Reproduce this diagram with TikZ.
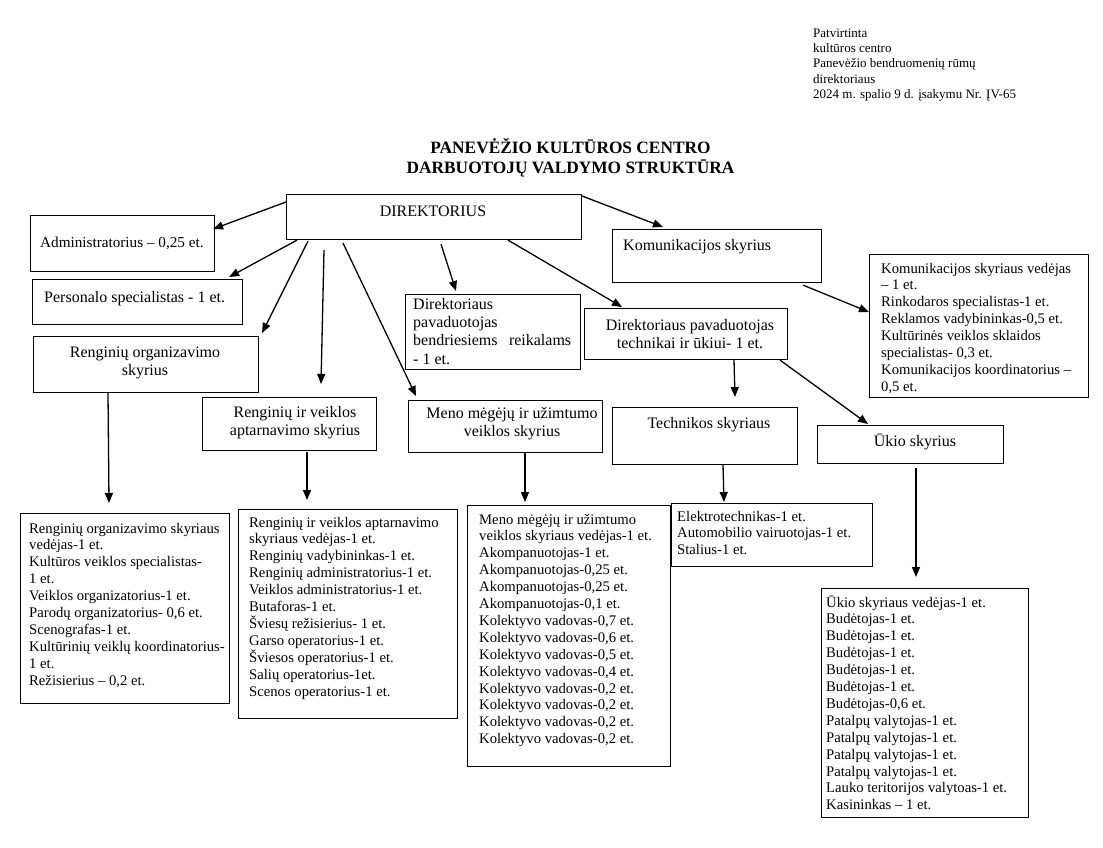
\documentclass[tikz,border=0pt]{standalone}
\usepackage{fontspec}
\setmainfont{Liberation Serif}
\usetikzlibrary{arrows.meta,calc}
\newcommand\Lleft[1]{\vtop{\halign{##\hfil\cr#1\crcr}}}
\newcommand\Lcent[1]{\vtop{\halign{\hfil##\hfil\cr#1\crcr}}}
\begin{document}
\begin{tikzpicture}[x=1pt,y=-1pt,
  box/.style={draw=black, line width=1.1pt, inner sep=0pt, anchor=north west},
  hd/.style={inner sep=0pt, font=\fontsize{16}{18.4}\selectfont},
  ls/.style={inner sep=0pt, anchor=base west, font=\fontsize{14.67}{16.9}\selectfont},
  arr/.style={-{Triangle[length=10pt,width=8pt]}, line width=1.3pt}]
\fill[white] (0,0) rectangle (1103,847);
\useasboundingbox (0,0) rectangle (1103,847);

% header texts
\node[inner sep=0pt, anchor=base west, font=\fontsize{13}{15.4}\selectfont] (appr) at (813,37)
  {\Lleft{Patvirtinta\cr kultūros centro\cr Panevėžio bendruomenių rūmų\cr direktoriaus\cr 2024 m. spalio 9 d. įsakymu Nr. ĮV-65}};
\node[inner sep=0pt, anchor=base, font=\fontsize{17.33}{20}\selectfont\bfseries] (title) at (570.5,153)
  {\Lcent{PANEVĖŽIO KULTŪROS CENTRO\cr DARBUOTOJŲ VALDYMO STRUKTŪRA}};

% boxes
\node[box, minimum width=295pt, minimum height=45pt] (dir) at (286,194) {};
\node[box, minimum width=184pt, minimum height=56pt] (adm) at (30,215) {};
\node[box, minimum width=210pt, minimum height=45pt] (pers) at (32,279) {};
\node[box, minimum width=225pt, minimum height=56pt] (rorg) at (33,336) {};
\node[box, minimum width=174pt, minimum height=53pt] (rvei) at (202,397) {};
\node[box, minimum width=194pt, minimum height=52pt] (meno) at (408,400) {};
\node[box, minimum width=175pt, minimum height=75pt] (bendr) at (405,294) {};
\node[box, minimum width=209pt, minimum height=53pt] (kom) at (612,229) {};
\node[box, minimum width=203pt, minimum height=51pt] (tech) at (584,308) {};
\node[box, minimum width=219pt, minimum height=143pt] (komL) at (869,254) {};
\node[box, minimum width=185pt, minimum height=57pt] (tsk) at (612,407) {};
\node[box, minimum width=186pt, minimum height=38pt] (uk) at (817,425) {};
\node[box, minimum width=209pt, minimum height=190pt] (rorgL) at (20,513) {};
\node[box, minimum width=219pt, minimum height=209pt] (rveiL) at (238,509) {};
\node[box, minimum width=203pt, minimum height=261pt] (menoL) at (467,505) {};
\node[box, minimum width=201pt, minimum height=63pt] (elL) at (671,503) {};
\node[box, minimum width=207pt, minimum height=229pt] (ukL) at (821,588) {};

% box texts
\node[hd, anchor=base] (tdir) at (433,216) {DIREKTORIUS};
\node[hd, anchor=base west, font=\fontsize{15.2}{17.5}\selectfont] (tadm) at (40,247) {Administratorius – 0,25 et.};
\node[hd, anchor=base west] (tpers) at (44,302) {Personalo specialistas - 1 et.};
\node[hd, anchor=base] (trorg) at (145,357) {\Lcent{Renginių organizavimo\cr skyrius}};
\node[hd, anchor=base] (trvei) at (295,417) {\Lcent{Renginių ir veiklos\cr aptarnavimo skyrius}};
\node[hd, anchor=base] (tmeno) at (512,418) {\Lcent{Meno mėgėjų ir užimtumo\cr veiklos skyrius}};
\node[hd, anchor=base west] (tbendr) at (413,309) {\Lleft{Direktoriaus\cr pavaduotojas\cr \hbox to 158pt{bendriesiems\hfil reikalams}\cr - 1 et.}};
\node[hd, anchor=base west] (tkom) at (623,250) {Komunikacijos skyrius};
\node[hd, anchor=base] (ttech) at (690,330) {\Lcent{Direktoriaus pavaduotojas\cr technikai ir ūkiui- 1 et.}};
\node[hd, anchor=base] (ttsk) at (709,428) {Technikos skyriaus};
\node[hd, anchor=base] (tuk) at (915,446) {Ūkio skyrius};

\node[ls] (tkomL) at (881,273) {\Lleft{Komunikacijos skyriaus vedėjas\cr – 1 et.\cr Rinkodaros specialistas-1 et.\cr Reklamos vadybininkas-0,5 et.\cr Kultūrinės veiklos sklaidos\cr specialistas- 0,3 et.\cr Komunikacijos koordinatorius –\cr 0,5 et.}};
\node[ls] (trorgL) at (29,533) {\Lleft{Renginių organizavimo skyriaus\cr vedėjas-1 et.\cr Kultūros veiklos specialistas-\cr 1 et.\cr Veiklos organizatorius-1 et.\cr Parodų organizatorius- 0,6 et.\cr Scenografas-1 et.\cr Kultūrinių veiklų koordinatorius-\cr 1 et.\cr Režisierius – 0,2 et.}};
\node[ls] (trveiL) at (249,527) {\Lleft{Renginių ir veiklos aptarnavimo\cr skyriaus vedėjas-1 et.\cr Renginių vadybininkas-1 et.\cr Renginių administratorius-1 et.\cr Veiklos administratorius-1 et.\cr Butaforas-1 et.\cr Šviesų režisierius- 1 et.\cr Garso operatorius-1 et.\cr Šviesos operatorius-1 et.\cr Salių operatorius-1et.\cr Scenos operatorius-1 et.}};
\node[ls] (tmenoL) at (479,524) {\Lleft{Meno mėgėjų ir užimtumo\cr veiklos skyriaus vedėjas-1 et.\cr Akompanuotojas-1 et.\cr Akompanuotojas-0,25 et.\cr Akompanuotojas-0,25 et.\cr Akompanuotojas-0,1 et.\cr Kolektyvo vadovas-0,7 et.\cr Kolektyvo vadovas-0,6 et.\cr Kolektyvo vadovas-0,5 et.\cr Kolektyvo vadovas-0,4 et.\cr Kolektyvo vadovas-0,2 et.\cr Kolektyvo vadovas-0,2 et.\cr Kolektyvo vadovas-0,2 et.\cr Kolektyvo vadovas-0,2 et.}};
\node[ls] (telL) at (677,521) {\Lleft{Elektrotechnikas-1 et.\cr Automobilio vairuotojas-1 et.\cr Stalius-1 et.}};
\node[ls] (tukL) at (826,607) {\Lleft{Ūkio skyriaus vedėjas-1 et.\cr Budėtojas-1 et.\cr Budėtojas-1 et.\cr Budėtojas-1 et.\cr Budėtojas-1 et.\cr Budėtojas-1 et.\cr Budėtojas-0,6 et.\cr Patalpų valytojas-1 et.\cr Patalpų valytojas-1 et.\cr Patalpų valytojas-1 et.\cr Patalpų valytojas-1 et.\cr Lauko teritorijos valytoas-1 et.\cr Kasininkas – 1 et.}};

% connectors
\draw[arr] ($(dir.north west)+(0,8)$) -- ($(adm.north east)+(-2,14)$);
\draw[arr] ($(dir.south west)+(11,0)$) -- ($(pers.north east)+(-14,-2)$);
\draw[arr] ($(dir.south west)+(22,1)$) -- ($(rorg.north east)+(3,-3)$);
\draw[arr] ($(dir.south west)+(38,10)$) -- ($(rvei.north west)+(119,-13)$);
\draw[arr] ($(dir.south west)+(57,3)$) -- ($(meno.north west)+(8,-4)$);
\draw[arr] ($(dir.south west)+(155,4)$) -- ($(bendr.north west)+(51,-3)$);
\draw[arr] ($(dir.south west)+(222,0)$) -- ($(tech.north west)+(38,-1)$);
\draw[arr] ($(dir.north east)+(0,2)$) -- ($(kom.north west)+(51,-2)$);
\draw[arr] ($(kom.south west)+(191,2)$) -- ($(komL.north west)+(0,58)$);
\draw[arr] ($(tech.south west)+(150,0)$) -- ($(tsk.north west)+(123,-10)$);
\draw[arr] ($(tech.south west)+(196,0)$) -- ($(uk.north west)+(51,-1)$);
\draw[arr] ($(rorg.south west)+(75,0)$) -- ($(rorgL.north west)+(89,-10)$);
\draw[arr] ($(rvei.south west)+(105,1)$) -- ($(rveiL.north west)+(69,-9)$);
\draw[arr] ($(meno.south west)+(117,0)$) -- ($(menoL.north west)+(58,-3)$);
\draw[arr] ($(tsk.south west)+(111,0)$) -- ($(elL.north west)+(53,-1)$);
\draw[arr] ($(uk.south west)+(99,4)$) -- ($(ukL.north west)+(95,-11)$);
\end{tikzpicture}
\end{document}
